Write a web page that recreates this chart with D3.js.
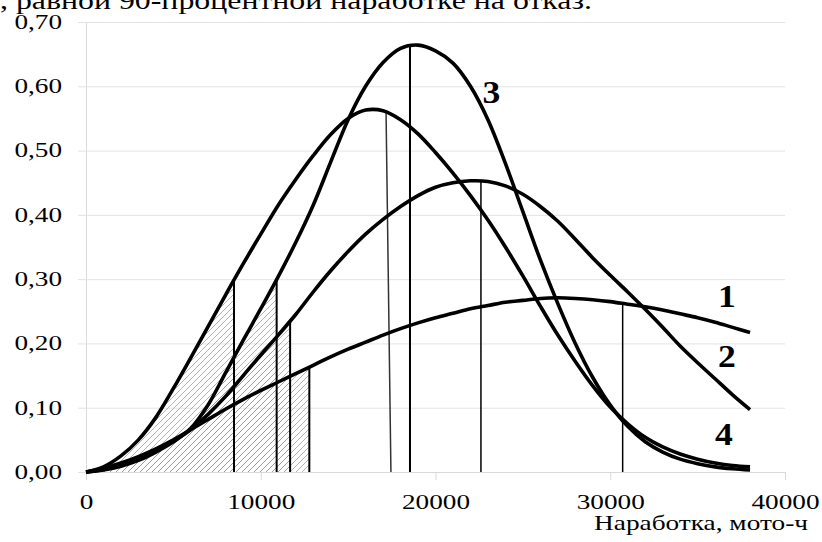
<!DOCTYPE html>
<html>
<head>
<meta charset="utf-8">
<script src="https://cdn.jsdelivr.net/npm/d3@7"></script>
<style>
  body { margin: 0; background: #fff; }
  svg { display: block; font-family: "Liberation Serif", "Times New Roman", serif; }
</style>
</head>
<body>
<svg width="822" height="542"></svg>
<script>
// наработка, мото-ч (общая сетка по оси X, шаг 1000)
const hours = [0, 1000, 2000, 3000, 4000, 5000, 6000, 7000, 8000, 9000,
               10000, 11000, 12000, 13000, 14000, 15000, 16000, 17000, 18000, 19000,
               20000, 21000, 22000, 23000, 24000, 25000, 26000, 27000, 28000, 29000,
               30000, 31000, 32000, 33000, 34000, 35000, 36000, 37000, 38000];

// плотности распределения для четырёх кривых
const curve1 = [0, 0.006, 0.014, 0.024, 0.036, 0.050, 0.066, 0.082, 0.098, 0.113,
                0.127, 0.140, 0.153, 0.166, 0.179, 0.191, 0.202, 0.213, 0.223, 0.232,
                0.240, 0.247, 0.254, 0.259, 0.264, 0.267, 0.270, 0.271, 0.270, 0.268,
                0.265, 0.261, 0.257, 0.252, 0.246, 0.240, 0.233, 0.225, 0.217];
const curve2 = [0, 0.004, 0.011, 0.021, 0.033, 0.048, 0.066, 0.090, 0.118, 0.150,
                0.182, 0.213, 0.245, 0.280, 0.313, 0.343, 0.370, 0.393, 0.413, 0.430,
                0.443, 0.450, 0.453, 0.452, 0.445, 0.432, 0.413, 0.390, 0.362, 0.333,
                0.306, 0.280, 0.253, 0.225, 0.196, 0.170, 0.145, 0.120, 0.097];
const curve3 = [0, 0.003, 0.009, 0.018, 0.031, 0.047, 0.068, 0.105, 0.155, 0.205,
                0.254, 0.304, 0.357, 0.415, 0.482, 0.548, 0.600, 0.637, 0.659, 0.664,
                0.655, 0.636, 0.600, 0.548, 0.480, 0.405, 0.330, 0.262, 0.200, 0.147,
                0.104, 0.071, 0.047, 0.031, 0.020, 0.013, 0.008, 0.005, 0.003];
const curve4 = [0, 0.008, 0.025, 0.050, 0.085, 0.130, 0.178, 0.227, 0.276, 0.324,
                0.370, 0.415, 0.455, 0.492, 0.525, 0.550, 0.563, 0.562, 0.548, 0.526,
                0.497, 0.465, 0.430, 0.392, 0.350, 0.305, 0.258, 0.213, 0.172, 0.134,
                0.101, 0.075, 0.054, 0.039, 0.028, 0.020, 0.014, 0.010, 0.008];

const curveNames = ['1', '2', '3', '4'];
const curveValues = [curve1, curve2, curve3, curve4];

// граница заштрихованной области (90-процентная наработка)
const hatchCurve = ['4', '3', '2', '1'];
const hatchHours = [8470, 10910, 11680, 12780];

// вертикальные линии у максимумов (у кривой 4 линия наклонная)
const peakCurve = ['3', '2', '1', '4'];
const peakTopHours = [18540, 22600, 30710, 17170];
const peakBaseHours = [18540, 22600, 30710, 17450];

// подписи кривых
const labelNames = ['1', '2', '3', '4'];
const labelHours = [36680, 36680, 23200, 36510];
const labelValues = [0.2567, 0.1633, 0.5735, 0.042];

const xTicks = [0, 10000, 20000, 30000, 40000];
const yTicks = [0, 0.1, 0.2, 0.3, 0.4, 0.5, 0.6, 0.7];

const svg = d3.select('svg');
const stretch = 1.36; // текст на картинке растянут по горизонтали

const x = d3.scaleLinear().domain([0, 40000]).range([86, 785]);
const y = d3.scaleLinear().domain([0, 0.7]).range([472, 22]);

const ru = d3.formatLocale({decimal: ',', thousands: '', grouping: [3], currency: ['', '']});

function widen(sel, k) {
    sel.each(function() {
        const w = this.getComputedTextLength();
        d3.select(this).attr('textLength', w * k).attr('lengthAdjust', 'spacingAndGlyphs');
    });
}

// hatch pattern
const defs = svg.append('defs');
defs.append('pattern')
    .attr('id', 'hatch')
    .attr('patternUnits', 'userSpaceOnUse')
    .attr('width', 6).attr('height', 6)
    .append('path')
    .attr('d', 'M-1,1 L1,-1 M0,6 L6,0 M5,7 L7,5')
    .attr('stroke', '#999')
    .attr('stroke-width', 0.75);

// top text (cut off by the frame, as in the source)
svg.append('text')
    .attr('x', 0).attr('y', 9)
    .attr('font-size', 26)
    .attr('textLength', 592).attr('lengthAdjust', 'spacingAndGlyphs')
    .text(', равной 90-процентной наработке на отказ.');

// y axis with gridlines
const yAxis = svg.append('g')
    .attr('transform', 'translate(' + x(0) + ',0)')
    .call(d3.axisLeft(y).tickValues(yTicks).tickFormat(ru.format('.2f'))
        .tickSizeInner(-(x(40000) - x(0))).tickSizeOuter(0).tickPadding(24));
yAxis.select('.domain').attr('stroke', '#d9d9d9');
yAxis.selectAll('.tick line').attr('x1', -8).attr('stroke', '#e3e3e3');
yAxis.selectAll('.tick text')
    .attr('font-size', 20).attr('fill', '#000')
    .attr('font-family', '"Liberation Serif", serif')
    .call(widen, stretch);

// x axis
const xAxis = svg.append('g')
    .attr('transform', 'translate(0,' + y(0) + ')')
    .call(d3.axisBottom(x).tickValues(xTicks).tickFormat(d3.format('d'))
        .tickSize(8).tickPadding(15));
xAxis.select('.domain').attr('stroke', '#d9d9d9');
xAxis.selectAll('.tick line').attr('stroke', '#d9d9d9');
xAxis.selectAll('.tick text')
    .attr('font-size', 20).attr('fill', '#000')
    .attr('font-family', '"Liberation Serif", serif')
    .call(widen, stretch);

svg.append('text')
    .attr('x', 808).attr('y', 530)
    .attr('text-anchor', 'end')
    .attr('font-size', 21)
    .text('Наработка, мото-ч')
    .call(widen, 1.3);

// series as point lists
const series = curveNames.map((name, i) => ({
    name: name,
    points: hours.map((h, j) => [h, curveValues[i][j]])
}));
const byName = {};
series.forEach(s => byName[s.name] = s);

const line = d3.line()
    .x(d => x(d[0]))
    .y(d => y(d[1]))
    .curve(d3.curveCatmullRom.alpha(0.5));
const area = d3.area()
    .x(d => x(d[0]))
    .y0(y(0))
    .y1(d => y(d[1]))
    .curve(d3.curveCatmullRom.alpha(0.5));

const hatchG = svg.append('g');
const marksG = svg.append('g');
const curvesG = svg.append('g');

const curvePaths = {};
series.forEach(s => {
    curvePaths[s.name] = curvesG.append('path')
        .datum(s.points)
        .attr('d', line)
        .attr('fill', 'none')
        .attr('stroke', '#000')
        .attr('stroke-width', 3.6)
        .attr('stroke-linejoin', 'round')
        .node();
});

// y of a drawn curve at pixel px
function yOnCurve(name, px) {
    const p = curvePaths[name];
    let lo = 0, hi = p.getTotalLength();
    for (let k = 0; k < 40; k++) {
        const mid = (lo + hi) / 2;
        if (p.getPointAtLength(mid).x < px) lo = mid; else hi = mid;
    }
    return p.getPointAtLength((lo + hi) / 2).y;
}

// hatched areas, each clipped at its own cutoff
hatchCurve.forEach((name, i) => {
    const id = 'clip' + i;
    defs.append('clipPath').attr('id', id)
        .append('rect')
        .attr('x', x(0)).attr('y', 0)
        .attr('width', x(hatchHours[i]) - x(0))
        .attr('height', y(0) + 1);
    hatchG.append('path')
        .datum(byName[name].points)
        .attr('d', area)
        .attr('fill', 'url(#hatch)')
        .attr('clip-path', 'url(#' + id + ')');
    marksG.append('line')
        .attr('x1', x(hatchHours[i])).attr('x2', x(hatchHours[i]))
        .attr('y1', yOnCurve(name, x(hatchHours[i]))).attr('y2', y(0))
        .attr('stroke', '#000').attr('stroke-width', 2);
});

peakCurve.forEach((name, i) => {
    marksG.append('line')
        .attr('x1', x(peakTopHours[i]))
        .attr('y1', yOnCurve(name, x(peakTopHours[i])))
        .attr('x2', x(peakBaseHours[i]))
        .attr('y2', y(0))
        .attr('stroke', name === '4' ? '#333' : '#000')
        .attr('stroke-width', name === '3' ? 2 : 1.5);
});

// curve numbers
svg.append('g')
    .selectAll('text')
    .data(labelNames)
    .enter()
    .append('text')
    .attr('x', (d, i) => x(labelHours[i]))
    .attr('y', (d, i) => y(labelValues[i]))
    .attr('text-anchor', 'middle')
    .attr('font-size', 31)
    .attr('font-weight', 'bold')
    .text(d => d)
    .call(widen, 1.15);
</script>
</body>
</html>
